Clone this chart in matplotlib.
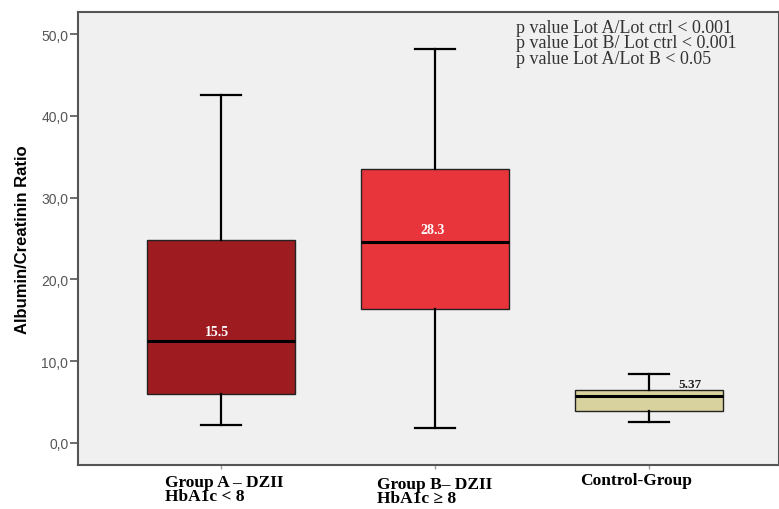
import matplotlib
matplotlib.use("Agg")
import matplotlib.pyplot as plt

# values
groups = ["Group A", "Group B", "Control"]
q1 = [6.0, 16.4, 3.9]
med = [12.5, 24.6, 5.75]
q3 = [24.8, 33.5, 6.5]
whislo = [2.2, 1.8, 2.6]
whishi = [42.5, 48.2, 8.4]
box_colors = ["#9E1B20", "#E8343B", "#D8D29E"]
median_labels = ["15.5", "28.3", "5.37"]
cat_labels = ["Group A \u2013 DZII\nHbA1c < 8", "Group B\u2013 DZII\nHbA1c \u2265 8", "Control-Group"]
y_ticks = [0, 10, 20, 30, 40, 50]
p_text = ["p value Lot A/Lot ctrl < 0.001",
          "p value Lot B/ Lot ctrl < 0.001",
          "p value Lot A/Lot B < 0.05"]

fig = plt.figure(figsize=(7.79, 5.10), dpi=100)
ax = fig.add_axes([78 / 779, 44 / 510, 701 / 779, 453 / 510])
ax.set_facecolor("#F0F0F0")

stats = []
for i in range(len(groups)):
    stats.append(dict(label=groups[i], q1=q1[i], med=med[i], q3=q3[i],
                      whislo=whislo[i], whishi=whishi[i], fliers=[]))

positions = [1, 2, 3]
bp = ax.bxp(stats, positions=positions, widths=0.69, patch_artist=True,
            showfliers=False, capwidths=0.185,
            boxprops=dict(edgecolor="#222222", linewidth=1.0),
            whiskerprops=dict(color="black", linewidth=1.6),
            capprops=dict(color="black", linewidth=1.6),
            medianprops=dict(color="black", linewidth=2.2))
for patch, c in zip(bp["boxes"], box_colors):
    patch.set_facecolor(c)

# median value labels
ax.text(0.98, 13.6, median_labels[0], color="white", fontsize=10, fontweight="bold",
        family="Liberation Serif", ha="center", va="center")
ax.text(1.99, 26.1, median_labels[1], color="white", fontsize=10, fontweight="bold",
        family="Liberation Serif", ha="center", va="center")
ax.text(3.19, 7.2, median_labels[2], color="#222222", fontsize=9.5, fontweight="bold",
        family="Liberation Serif", ha="center", va="center")

ax.set_xlim(0.332, 3.607)
ax.set_ylim(-2.69, 52.69)
ax.set_yticks(y_ticks)
ax.set_yticklabels([f"{v:.1f}".replace(".", ",") for v in y_ticks],
                   color="#555555", fontsize=10, family="Liberation Sans")
ax.tick_params(axis="y", length=6, width=1.2, color="#555555", pad=1)

ax.set_xticks(positions)
ax.set_xticklabels([])
ax.tick_params(axis="x", length=3, width=1.0, color="#999999")

for s in ax.spines.values():
    s.set_color("#555555")
    s.set_linewidth(1.5)

ax.set_ylabel("Albumin/Creatinin Ratio", fontsize=12, fontweight="bold",
              family="Liberation Sans", labelpad=8)

# category labels under the axis
label_x = [165, 377, 580]
label_top = [475, 477, 473]
for lx, ly, lab in zip(label_x, label_top, cat_labels):
    fig.text(lx / 779, 1 - ly / 510, lab, ha="left", va="top", fontsize=12.5,
             fontweight="bold", family="Liberation Serif", linespacing=0.85)

# p value box text
fig.text(516 / 779, 1 - 20 / 510, "\n".join(p_text), ha="left", va="top",
         fontsize=13, family="Liberation Serif", color="#333333", linespacing=0.88)

fig.savefig("out.png", dpi=100, facecolor="white")
